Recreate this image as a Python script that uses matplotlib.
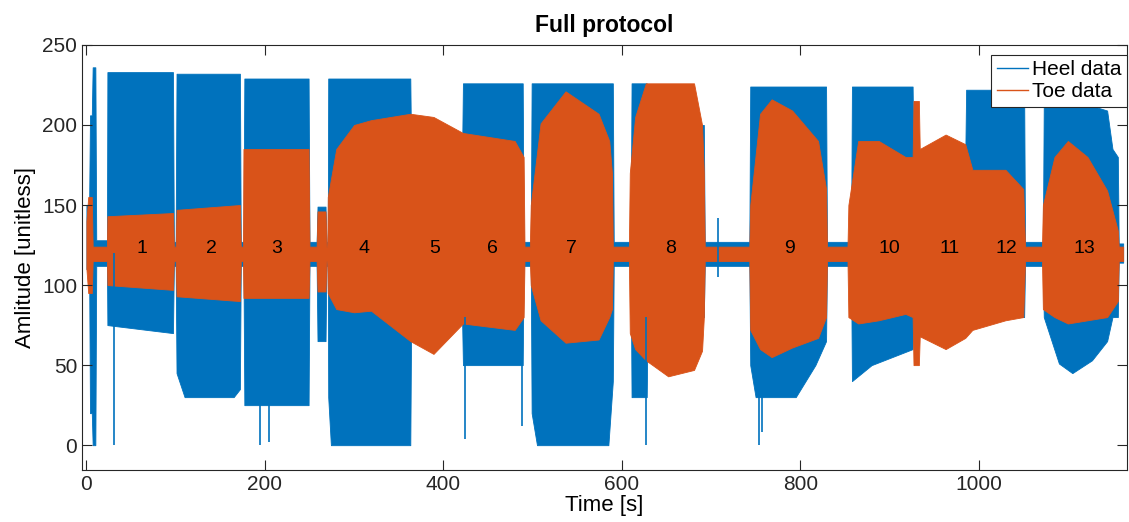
import numpy as np
import matplotlib.pyplot as plt

plt.rcParams['font.family'] = ['Liberation Sans', 'DejaVu Sans']

# envelope of heel signal: time [s], lower, upper
heel_t = [0, 3, 4, 6, 7, 10, 11, 23,
          23.5, 97, 98, 100,
          101, 110, 165, 172, 173, 176,
          177, 249, 250, 258, 259, 268, 269, 270.5,
          271, 274, 363, 364, 421,
          422, 489, 490, 498,
          499, 505, 585, 590, 591, 610,
          611, 628, 629, 692, 693, 743,
          744, 750, 795, 817, 829, 830, 857,
          858, 880, 926, 927, 985, 986, 1051, 1052, 1072,
          1073, 1090, 1105, 1127, 1144, 1150, 1156, 1157, 1162]
heel_lo = [110, 110, 20, 20, 0, 0, 112, 112,
           75, 70, 112, 112,
           45, 30, 30, 35, 112, 112,
           25, 25, 112, 112, 65, 65, 112, 112,
           30, 0, 0, 80, 80,
           50, 50, 112, 112,
           20, 0, 0, 40, 112, 112,
           30, 30, 80, 80, 112, 112,
           50, 30, 30, 50, 65, 112, 112,
           40, 50, 60, 80, 80, 80, 80, 112, 112,
           80, 51, 45, 53, 65, 80, 80, 114, 114]
heel_hi = [150, 150, 206, 206, 236, 236, 128, 128,
           233, 233, 127, 127,
           232, 232, 232, 232, 127, 127,
           229, 229, 127, 127, 149, 149, 127, 127,
           229, 229, 229, 180, 180,
           226, 226, 127, 127,
           226, 226, 226, 226, 127, 127,
           226, 226, 200, 200, 127, 127,
           224, 224, 224, 224, 224, 127, 127,
           224, 224, 224, 180, 180, 222, 222, 127, 127,
           214, 214, 214, 212, 209, 185, 180, 126, 126]

# isolated heel spikes: time, lower, upper
spike_t = [31, 195, 205, 424, 488, 627, 708, 754, 757]
spike_lo = [0, 0, 2, 4, 12, 0, 105, 0, 8]
spike_hi = [120, 60, 60, 80, 70, 80, 142, 60, 40]

# envelope of toe signal
toe_t = [0, 2, 6, 7, 23,
         23.5, 97, 98, 100,
         101, 172, 173, 175.5,
         176, 249, 250, 258, 259, 268, 269, 270,
         270.5, 280, 300, 319, 363, 389, 422, 480, 490, 491, 497,
         498, 509, 537, 574, 586, 589, 590, 608,
         609, 615, 627, 652, 681, 690, 692, 693, 743,
         744, 755, 768, 791, 820, 829, 830, 853,
         854, 865, 888, 918, 926, 927, 933, 934, 963, 985, 993, 1030, 1050, 1052, 1071,
         1072, 1085, 1100, 1122, 1144, 1156, 1157, 1162]
toe_lo = [110, 95, 95, 115, 115,
          100, 97, 115, 115,
          93, 90, 115, 115,
          92, 92, 115, 115, 96, 96, 115, 115,
          95, 85, 83, 84, 65, 57, 76, 72, 80, 115, 115,
          100, 78, 64, 66, 80, 85, 115, 115,
          70, 60, 53, 43, 47, 59, 80, 115, 115,
          72, 60, 55, 61, 67, 80, 115, 115,
          80, 76, 78, 82, 80, 50, 50, 68, 60, 67, 72, 78, 80, 115, 115,
          85, 80, 76, 78, 80, 90, 115, 115]
toe_hi = [140, 155, 155, 124, 124,
          143, 145, 124, 124,
          147, 150, 124, 124,
          185, 185, 124, 124, 146, 146, 124, 124,
          155, 185, 200, 203, 207, 205, 195, 190, 180, 124, 124,
          150, 201, 221, 207, 190, 170, 124, 124,
          170, 205, 226, 226, 226, 200, 170, 124, 124,
          150, 207, 216, 209, 190, 160, 124, 124,
          150, 190, 190, 180, 180, 215, 215, 185, 194, 188, 172, 172, 160, 124, 124,
          150, 180, 190, 180, 159, 134, 124, 124]

# exercise labels
label_t = [62, 140, 213, 311, 390, 455, 544, 655, 788, 900, 967, 1031, 1118]
label_txt = [str(i) for i in range(1, 14)]

heel_c = '#0072BD'
toe_c = '#D95319'

fig = plt.figure(figsize=(11.29, 5.22), dpi=100)
ax = fig.add_axes([0.0726, 0.0996, 0.9254, 0.8144])

ax.fill_between(heel_t, heel_lo, heel_hi, color=heel_c, lw=0.6)
ax.vlines(spike_t, spike_lo, spike_hi, color=heel_c, lw=1.2)
ax.fill_between(toe_t, toe_lo, toe_hi, color=toe_c, lw=0.6)

for t, s in zip(label_t, label_txt):
    ax.text(t, 123, s, ha='center', va='center', fontsize=14, color='black')

ax.set_xlim(-5, 1166)
ax.set_ylim(-15.5, 250)
ax.set_xticks(np.arange(0, 1001, 200))
ax.set_yticks(np.arange(0, 251, 50))
ax.tick_params(direction='in', length=7, width=0.8, top=True, right=True,
               labelsize=15, colors='0.15')
for sp in ax.spines.values():
    sp.set_color('0.15')
    sp.set_linewidth(0.8)

ax.set_title('Full protocol', fontsize=16.5, fontweight='bold', pad=9)
ax.set_xlabel('Time [s]', fontsize=16, labelpad=1)
ax.set_ylabel('Amlitude [unitless]', fontsize=16, labelpad=4)

h1 = plt.Line2D([], [], color=heel_c, lw=1)
h2 = plt.Line2D([], [], color=toe_c, lw=1)
leg = ax.legend([h1, h2], ['Heel data', 'Toe data'], loc='upper right',
                bbox_to_anchor=(1.0, 0.976), borderaxespad=0, fontsize=15,
                fancybox=False, framealpha=1, edgecolor='0.15',
                handlelength=1.5, handletextpad=0.2, labelspacing=0.15,
                borderpad=0.25)
leg.get_frame().set_linewidth(0.8)

plt.savefig('out.png', dpi=100)
